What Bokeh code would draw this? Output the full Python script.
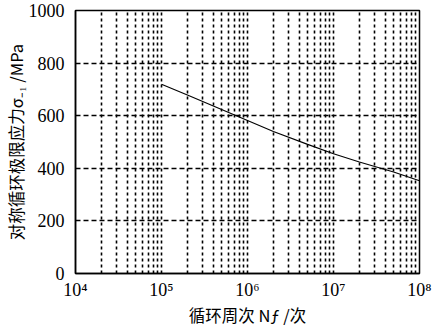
from bokeh.plotting import figure
from bokeh.models import FixedTicker, CustomJSTickFormatter, Range1d
from bokeh.embed import file_html
from bokeh.resources import INLINE

# ---- data ----
cycles = [1e5, 2e5, 5e5, 1e6, 2e6, 5e6, 1e7, 2e7, 5e7, 1e8]
stress = [720, 679, 624, 582, 540, 491, 455, 424, 386, 353]
y_ticks = [0, 200, 400, 600, 800, 1000]
x_ticks = [1e4, 1e5, 1e6, 1e7, 1e8]
x_minor = [k * 10 ** e for e in range(4, 8) for k in range(2, 10)]
x_label = "循环周次 Nƒ /次"
y_label = "对称循环极限应力σ₋₁ /MPa"

SERIF = "'Liberation Serif'"
CJK = "'Noto Sans CJK SC'"

p = figure(width=440, height=330, x_axis_type="log",
           x_range=Range1d(1e4, 1e8), y_range=Range1d(0, 1000),
           output_backend="svg", toolbar_location=None,
           min_border_left=73, min_border_right=21,
           min_border_top=10, min_border_bottom=57,
           x_axis_label=x_label, y_axis_label=y_label)
p.background_fill_color = "white"
p.border_fill_color = "white"
p.outline_line_color = "black"
p.outline_line_width = 1.5

p.line(cycles, stress, line_color="black", line_width=1.1)

# axes
p.xaxis.ticker = FixedTicker(ticks=x_ticks, minor_ticks=x_minor)
p.yaxis.ticker = FixedTicker(ticks=y_ticks)
p.xaxis.formatter = CustomJSTickFormatter(code="""
const sup = {'4':'\u2074','5':'\u2075','6':'\u2076','7':'\u2077','8':'\u2078'};
const e = Math.round(Math.log10(tick));
return '10' + sup[String(e)];
""")
for ax in (p.xaxis[0], p.yaxis[0]):
    ax.major_tick_line_color = None
    ax.minor_tick_line_color = None
    ax.axis_line_color = "black"
    ax.axis_line_width = 1.5
    ax.major_label_text_font = SERIF
    ax.major_label_text_font_size = "18px"
    ax.major_label_text_color = "black"
    ax.axis_label_text_font = CJK
    ax.axis_label_text_font_size = "16.5px"
    ax.axis_label_text_font_style = "normal"
    ax.axis_label_text_color = "black"
p.xaxis.major_label_standoff = 0
p.yaxis.major_label_standoff = 5
p.xaxis.axis_label_standoff = 0
p.yaxis.axis_label_standoff = -2

# grids
p.xgrid.grid_line_color = "black"
p.xgrid.grid_line_width = 1.6
p.xgrid.grid_line_dash = "3 3"
p.xgrid.minor_grid_line_color = "black"
p.xgrid.minor_grid_line_width = 1.6
p.xgrid.minor_grid_line_dash = "3 3"
p.ygrid.grid_line_color = "black"
p.ygrid.grid_line_width = 1.5
p.ygrid.grid_line_dash = "5 3"

open("out.html", "w").write(file_html(p, INLINE))
